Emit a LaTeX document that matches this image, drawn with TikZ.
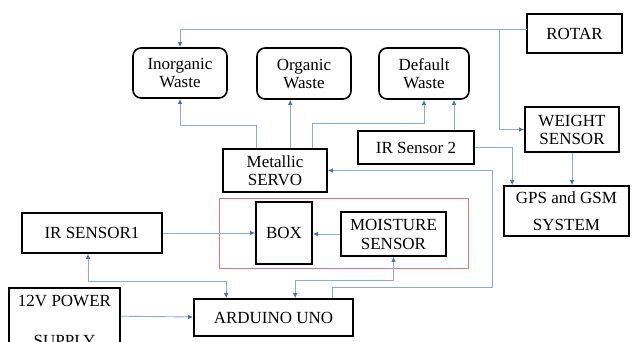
\documentclass[tikz,border=0pt]{standalone}
\usepackage{fontspec}
\setmainfont{Liberation Serif}
\usetikzlibrary{arrows.meta,calc}
\definecolor{lnblue}{RGB}{140,170,214}
\definecolor{tipblue}{RGB}{70,112,190}
\definecolor{redline}{RGB}{222,120,120}
\tikzset{
  blk/.style={draw=black, line width=1.6pt, inner sep=0pt, align=center,
    font=\fontsize{17}{18}\selectfont},
  rblk/.style={blk, rounded corners=8pt},
  ln/.style={draw=lnblue, line width=0.9pt},
  arr/.style={ln, -{Latex[length=5pt,width=4.5pt,color=tipblue]}},
  darr/.style={ln, {Latex[length=5pt,width=4.5pt,color=tipblue]}-{Latex[length=5pt,width=4.5pt,color=tipblue]}},
}
\begin{document}
\begin{tikzpicture}[x=1pt,y=-1pt]
\useasboundingbox (0,0) rectangle (632,341);
\clip (0,0) rectangle (632,341);
\fill[white] (0,0) rectangle (632,341);

% red frame
\node[draw=redline, line width=0.9pt, minimum width=249pt, minimum height=70pt, inner sep=0pt] (frame) at (343.5,233) {};

% boxes
\node[rblk, minimum width=94pt, minimum height=50pt] (inorg) at (180,73) {Inorganic\\Waste};
\node[rblk, minimum width=94pt, minimum height=51pt] (org) at (304,73.5) {Organic\\Waste};
\node[rblk, minimum width=90pt, minimum height=51pt] (def) at (424,73.5) {Default\\Waste};
\node[blk, minimum width=95pt, minimum height=39pt] (rotar) at (574.5,33.5) {ROTAR};
\node[blk, minimum width=94pt, minimum height=45pt] (weight) at (572,129.5) {WEIGHT\\SENSOR};
\node[blk, minimum width=116pt, minimum height=33pt] (ir2) at (416,147.5) {IR Sensor 2};
\node[blk, minimum width=104pt, minimum height=43pt] (metal) at (275,170.5) {Metallic\\SERVO};
\node[blk, minimum width=125pt, minimum height=50pt, font=\fontsize{17}{27}\selectfont] (gps) at (566.5,211) {GPS and GSM\\SYSTEM};
\node[blk, minimum width=56pt, minimum height=62pt] (box) at (284,233) {BOX};
\node[blk, minimum width=105pt, minimum height=44pt, font=\fontsize{17}{19}\selectfont] (moist) at (393.5,234) {MOISTURE\\SENSOR};
\node[blk, minimum width=140pt, minimum height=40pt] (ir1) at (92,233) {IR SENSOR1};
\node[blk, minimum width=159pt, minimum height=37pt] (ard) at (273.5,317.5) {ARDUINO UNO};
\node[blk, minimum width=111pt, minimum height=84pt, font=\fontsize{17}{40}\selectfont] (pwr) at (64.5,330) {};
\node[font=\fontsize{17}{40}\selectfont, align=center, inner sep=0pt, anchor=north] (pwrtxt) at (64.5,295) {12V POWER\\SUPPLY};

% connectors
\coordinate (rt) at (527,29);
\draw[arr] (rt) -| (inorg.north);
\coordinate (br) at (499,29);
\draw[arr] (br) |- (weight.west);
\draw[arr] (weight.south) -- (weight.south |- gps.north);
\draw[arr] (ir2.east) -| ($(gps.north west)+(9,0)$);
\draw[arr] ($(ir2.north)+(38,0)$) -- ($(def.south)+(30,0)$);
\draw[arr] ($(metal.north west)+(34,0)$) -- ++(0,-23) -| (inorg.south);
\draw[arr] ($(metal.north west)+(68,0)$) -- ($(org.south west)+(34,0)$);
\draw[arr] ($(metal.north west)+(90,0)$) -- ++(0,-25) -| (def.south);
\draw[arr] ($(ard.north west)+(139,0)$) -- ++(0,-11) -- ++(160,0) |- (metal.east);
\draw[arr] (ir1.east) -- (box.west);
\draw[arr] (moist.west) -- (box.east |- moist.west);
\draw[darr] ($(ir1.south)+(-4,0)$) -- ++(0,28) -| ($(ard.north west)+(33,0)$);
\draw[darr] (moist.south) -- ++(0,24) -| ($(ard.north west)+(102,0)$);
\draw[arr] ($(pwr.north east)+(0,29)$) -- ($(ard.west)+(0,-0.5)$);
\end{tikzpicture}
\end{document}
